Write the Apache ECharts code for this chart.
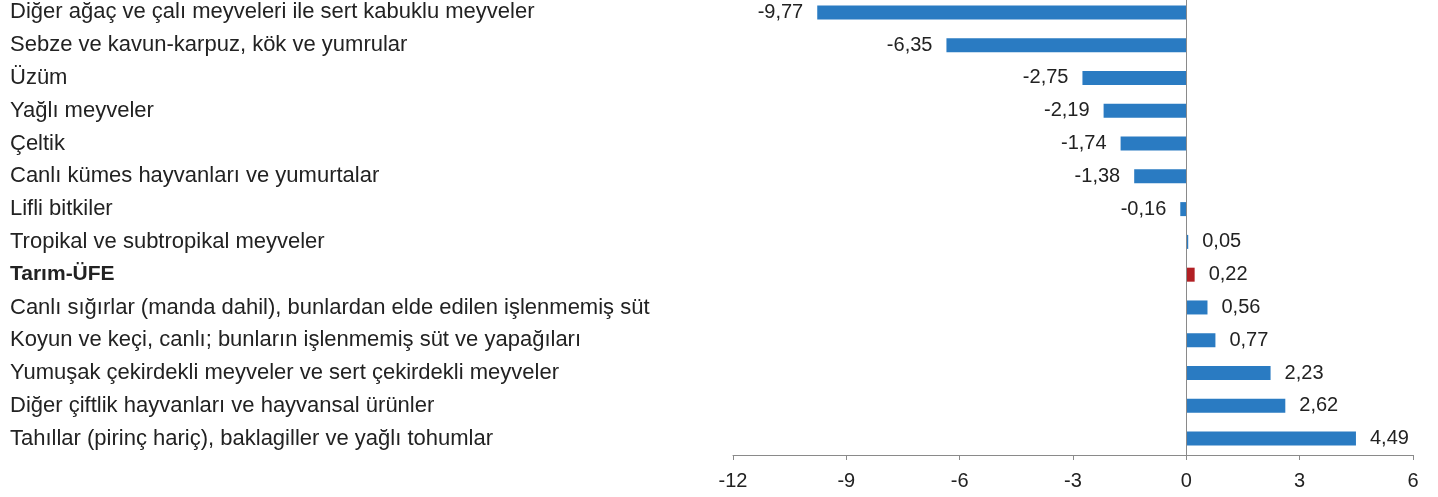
<!DOCTYPE html>
<html>
<head>
<meta charset="utf-8">
<script src="https://cdn.jsdelivr.net/npm/echarts@6/dist/echarts.min.js"></script>
<style>
  html, body { margin: 0; padding: 0; background: #fff; overflow: hidden; }
  /* chart box starts 10px above the page so the plot can begin above y=0 */
  #main { position: relative; top: -10px; width: 1438px; height: 507px; }
</style>
</head>
<body>
<div id="main"></div>
<script>
var categories = [
  'Diğer ağaç ve çalı meyveleri ile sert kabuklu meyveler',
  'Sebze ve kavun-karpuz, kök ve yumrular',
  'Üzüm',
  'Yağlı meyveler',
  'Çeltik',
  'Canlı kümes hayvanları ve yumurtalar',
  'Lifli bitkiler',
  'Tropikal ve subtropikal meyveler',
  'Tarım-ÜFE',
  'Canlı sığırlar (manda dahil), bunlardan elde edilen işlenmemiş süt',
  'Koyun ve keçi, canlı; bunların işlenmemiş süt ve yapağıları',
  'Yumuşak çekirdekli meyveler ve sert çekirdekli meyveler',
  'Diğer çiftlik hayvanları ve hayvansal ürünler',
  'Tahıllar (pirinç hariç), baklagiller ve yağlı tohumlar'
];
var values = [-9.77, -6.35, -2.75, -2.19, -1.74, -1.38, -0.16, 0.05, 0.22, 0.56, 0.77, 2.23, 2.62, 4.49];
var highlight = 'Tarım-ÜFE';

var font = '"Liberation Sans", Arial, sans-serif';
var myChart = echarts.init(document.getElementById('main'));

var barData = values.map(function (v, i) {
  return {
    value: v,
    itemStyle: { color: categories[i] === highlight ? '#b11f24' : '#2a7bc2' },
    label: { position: v < 0 ? 'left' : 'right' }
  };
});

var option = {
  animation: false,
  grid: { left: 733, right: 25, top: 6, bottom: 42 },
  xAxis: {
    type: 'value',
    min: -12,
    max: 6,
    interval: 3,
    splitLine: { show: false },
    axisLine: { show: true, lineStyle: { color: '#8a8a8a' } },
    axisTick: { show: true, length: 5, lineStyle: { color: '#8a8a8a' } },
    axisLabel: { margin: 16, color: '#222', fontSize: 20, fontFamily: font }
  },
  yAxis: {
    type: 'category',
    data: categories,
    inverse: true,
    axisLine: { show: false, onZero: false },
    axisTick: { show: false },
    axisLabel: {
      align: 'left',
      margin: 723,
      color: '#222',
      fontSize: 22,
      fontFamily: font,
      formatter: function (v) {
        return v === highlight ? '{b|' + v + '}' : v;
      },
      rich: {
        b: { fontWeight: 'bold', fontSize: 21, color: '#222', fontFamily: font }
      }
    }
  },
  series: [
    {
      type: 'bar',
      data: barData,
      barWidth: 14,
      label: {
        show: true,
        distance: 14,
        color: '#222',
        fontSize: 20,
        fontFamily: font,
        formatter: function (p) {
          return p.value.toFixed(2).replace('.', ',');
        }
      },
      markLine: {
        silent: true,
        symbol: 'none',
        label: { show: false },
        lineStyle: { color: '#8a8a8a', type: 'solid', width: 1 },
        data: [{ xAxis: 0 }]
      }
    }
  ]
};

myChart.setOption(option);
</script>
</body>
</html>
